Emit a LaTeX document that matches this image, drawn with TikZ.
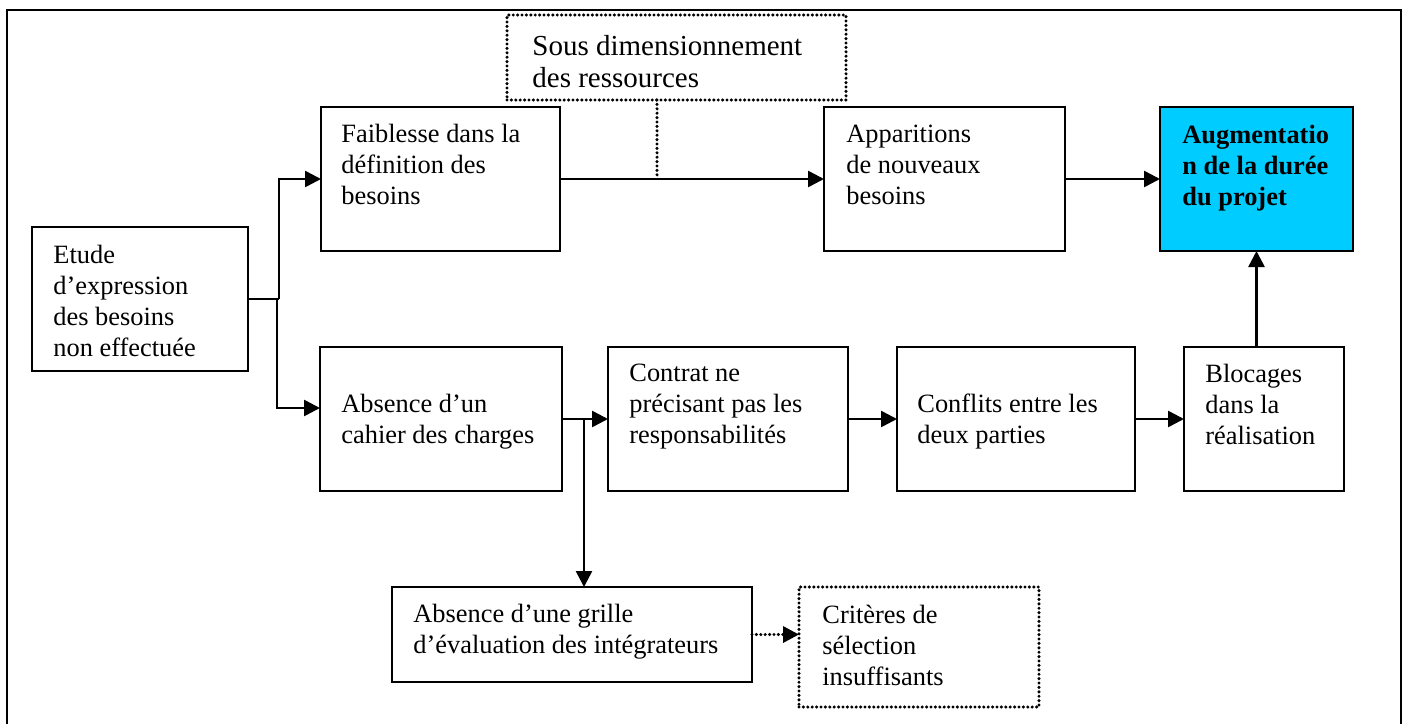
\documentclass[tikz,border=0pt]{standalone}
\usepackage{fontspec}
\setmainfont{Liberation Serif}
\usetikzlibrary{arrows.meta,calc}
\definecolor{augcyan}{HTML}{00CCFF}
\newcommand\mybox[9]{%
  \node[#2, anchor=north west, minimum width={(#5-#3)*0.5pt}, minimum height={(#6-#4)*0.5pt}] (#1) at (#3,#4) {};
  \node[lbl] (#1-t) at (#7,#8) {\parbox[t]{220pt}{\raggedright #9}};
}
\tikzset{
  boxs/.style={draw, line width=1pt, inner sep=0pt, outer sep=0pt},
  dotbox/.style={draw, line width=1.7pt, dash pattern=on 0pt off 2.2pt, line cap=round, inner sep=0pt, outer sep=0pt},
  augbox/.style={boxs, fill=augcyan},
  lbl/.style={anchor=base west, inner sep=0pt, font=\fontsize{13.2pt}{15.5pt}\selectfont},
  plain/.style={line width=1.3pt},
  conn/.style={line width=1.3pt, -{Triangle[length=8pt,width=8pt]}},
  dotconn/.style={line width=1.7pt, dash pattern=on 0pt off 2.2pt, line cap=round},
}
\begin{document}
\begin{tikzpicture}[x=0.5pt, y=-0.5pt]
\useasboundingbox (0,0) rectangle (1404,724);
\draw[line width=1pt] (7,724) -- (7,10) -- (1401,10) -- (1401,724);

\mybox{etude}{boxs}{32}{227}{248}{371}{53}{263}{Etude\\d’expression\\des besoins\\non effectuée}
\mybox{faib}{boxs}{321}{107}{560}{251}{341}{142}{Faiblesse dans la\\définition des\\besoins}
\mybox{sd}{dotbox}{507}{15}{846}{100}{532}{55}{\fontsize{14.5pt}{16pt}\selectfont Sous dimensionnement\\des ressources}
\mybox{app}{boxs}{824}{107}{1065}{251}{846}{142}{Apparitions\\de nouveaux\\besoins}
\mybox{aug}{augbox}{1160}{107}{1353}{251}{1182}{143}{\bfseries Augmentatio\\n de la durée\\du projet}
\mybox{cahier}{boxs}{320}{347}{562}{491}{341}{412}{Absence d’un\\cahier des charges}
\mybox{contrat}{boxs}{608}{347}{848}{491}{629}{381}{Contrat ne\\précisant pas les\\responsabilités}
\mybox{conflits}{boxs}{897}{347}{1135}{491}{917}{412}{Conflits entre les\\deux parties}
\mybox{bloc}{boxs}{1184}{347}{1344}{491}{1205}{382}{Blocages\\dans la\\réalisation}
\mybox{grille}{boxs}{392}{587}{752}{682}{413}{622}{Absence d’une grille\\d’évaluation des intégrateurs}
\mybox{crit}{dotbox}{799}{587}{1039}{707}{822}{623}{Critères de\\sélection\\insuffisants}

% connectors
\coordinate (j) at (279,299);
\coordinate (jt) at (279,179);
\coordinate (jb) at (277,408);
\draw[plain] (etude.east) -- (j);
\draw[conn] (j) -- (jt) -- (jt -| faib.west);
\draw[conn] (j -| jb) -- (jb) -- (jb -| cahier.west);
\draw[conn] (faib.east) -- (faib.east -| app.west);
\coordinate (sdj) at (657,179);
\draw[dotconn] (sd.south -| sdj) -- (sdj);
\draw[conn] (app.east) -- (app.east -| aug.west);
\draw[conn] (aug.south |- bloc.north) -- (aug.south);
\draw[conn] (cahier.east) -- (cahier.east -| contrat.west);
\coordinate (cj) at (584,419);
\draw[conn] (cj) -- (cj |- grille.north);
\draw[conn] (contrat.east) -- (conflits.west);
\draw[conn] (conflits.east) -- (bloc.west);
\draw[dotconn, -{Triangle[length=8pt,width=8pt]}] (grille.east) -- (grille.east -| crit.west);
\end{tikzpicture}
\end{document}
